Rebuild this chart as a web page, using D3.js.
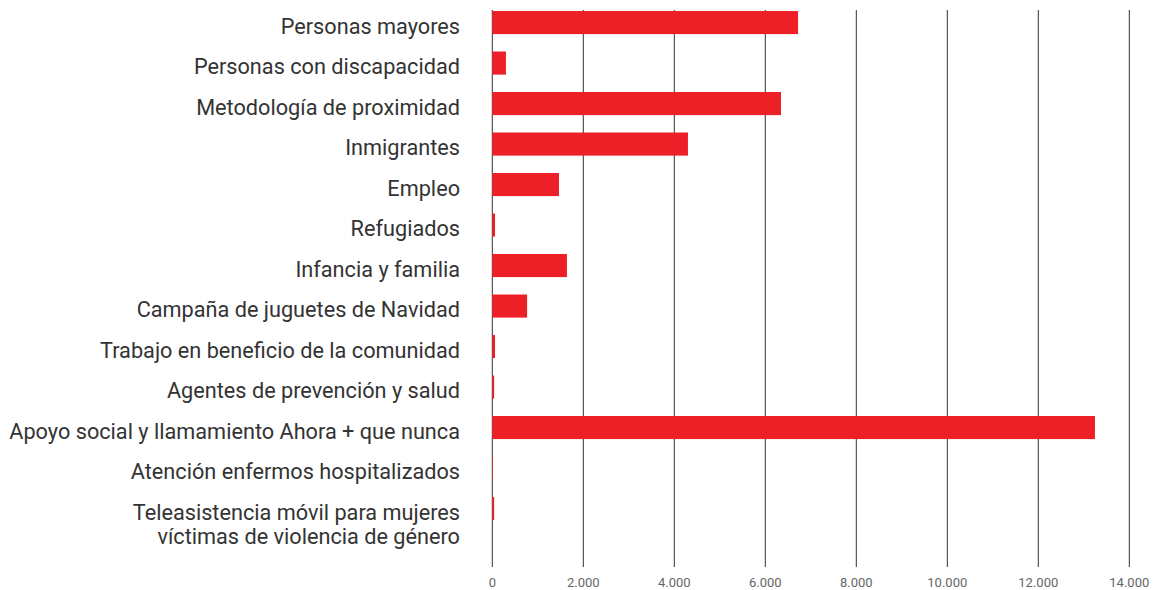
<!DOCTYPE html>
<html>
<head>
<meta charset="utf-8">
<script src="https://cdn.jsdelivr.net/npm/d3@7.9.0/dist/d3.min.js"></script>
<style>
  body { margin: 0; background: #fff; }
  svg { display: block; font-family: Roboto, sans-serif; }
</style>
</head>
<body>
<div id="chart"></div>
<script>
// Categories (multi-line labels use "\n")
const categories = [
  'Personas mayores',
  'Personas con discapacidad',
  'Metodología de proximidad',
  'Inmigrantes',
  'Empleo',
  'Refugiados',
  'Infancia y familia',
  'Campaña de juguetes de Navidad',
  'Trabajo en beneficio de la comunidad',
  'Agentes de prevención y salud',
  'Apoyo social y llamamiento Ahora + que nunca',
  'Atención enfermos hospitalizados',
  'Teleasistencia móvil para mujeres\nvíctimas de violencia de género'
];

// Values
const values = [6720, 300, 6345, 4300, 1465, 60, 1640, 765, 60, 40, 13245, 15, 40];

const xTicks = [0, 2000, 4000, 6000, 8000, 10000, 12000, 14000];

const width = 1156;
const height = 590;

const data = categories.map((c, i) => ({ name: c, value: values[i] }));

const esLocale = d3.formatLocale({ decimal: ',', thousands: '.', grouping: [3], currency: ['', ' €'] });
const fmt = esLocale.format(',d');

const x = d3.scaleLinear().domain([0, 14000]).range([492.3, 1129.3]);

const y = d3.scaleBand()
  .domain(categories)
  .range([0.9, 530.2])
  .paddingInner(0.43)
  .paddingOuter(0.25);

const svg = d3.select('#chart')
  .append('svg')
  .attr('width', width)
  .attr('height', height);

// vertical gridlines
const gridTop = 10;
const gridBottom = 567;

svg.append('g')
  .attr('class', 'grid')
  .selectAll('line')
  .data(xTicks)
  .join('line')
  .attr('x1', d => x(d))
  .attr('x2', d => x(d))
  .attr('y1', gridTop)
  .attr('y2', gridBottom)
  .attr('stroke', '#333')
  .attr('stroke-width', 1);

// tick labels
svg.append('g')
  .attr('class', 'x-labels')
  .selectAll('text')
  .data(xTicks)
  .join('text')
  .attr('x', d => x(d))
  .attr('y', 587)
  .attr('text-anchor', 'middle')
  .attr('fill', '#666')
  .style('font-size', '13px')
  .text(d => fmt(d));

// bars
svg.append('g')
  .attr('class', 'bars')
  .selectAll('rect')
  .data(data)
  .join('rect')
  .attr('x', x(0))
  .attr('y', d => y(d.name))
  .attr('width', d => x(d.value) - x(0))
  .attr('height', y.bandwidth())
  .attr('fill', '#ed1f27');

// category labels
const labels = svg.append('g')
  .attr('class', 'y-labels')
  .selectAll('text')
  .data(data)
  .join('text')
  .attr('x', 460)
  .attr('y', d => y(d.name) + y.bandwidth() / 2 + 11)
  .attr('text-anchor', 'end')
  .attr('fill', '#333')
  .style('font-size', '21.7px');

labels.each(function (d) {
  const lines = d.name.split('\n');
  const t = d3.select(this);
  lines.forEach((line, i) => {
    t.append('tspan')
      .attr('x', 460)
      .attr('dy', i === 0 ? 0 : 24.5)
      .text(line);
  });
});
</script>
</body>
</html>
